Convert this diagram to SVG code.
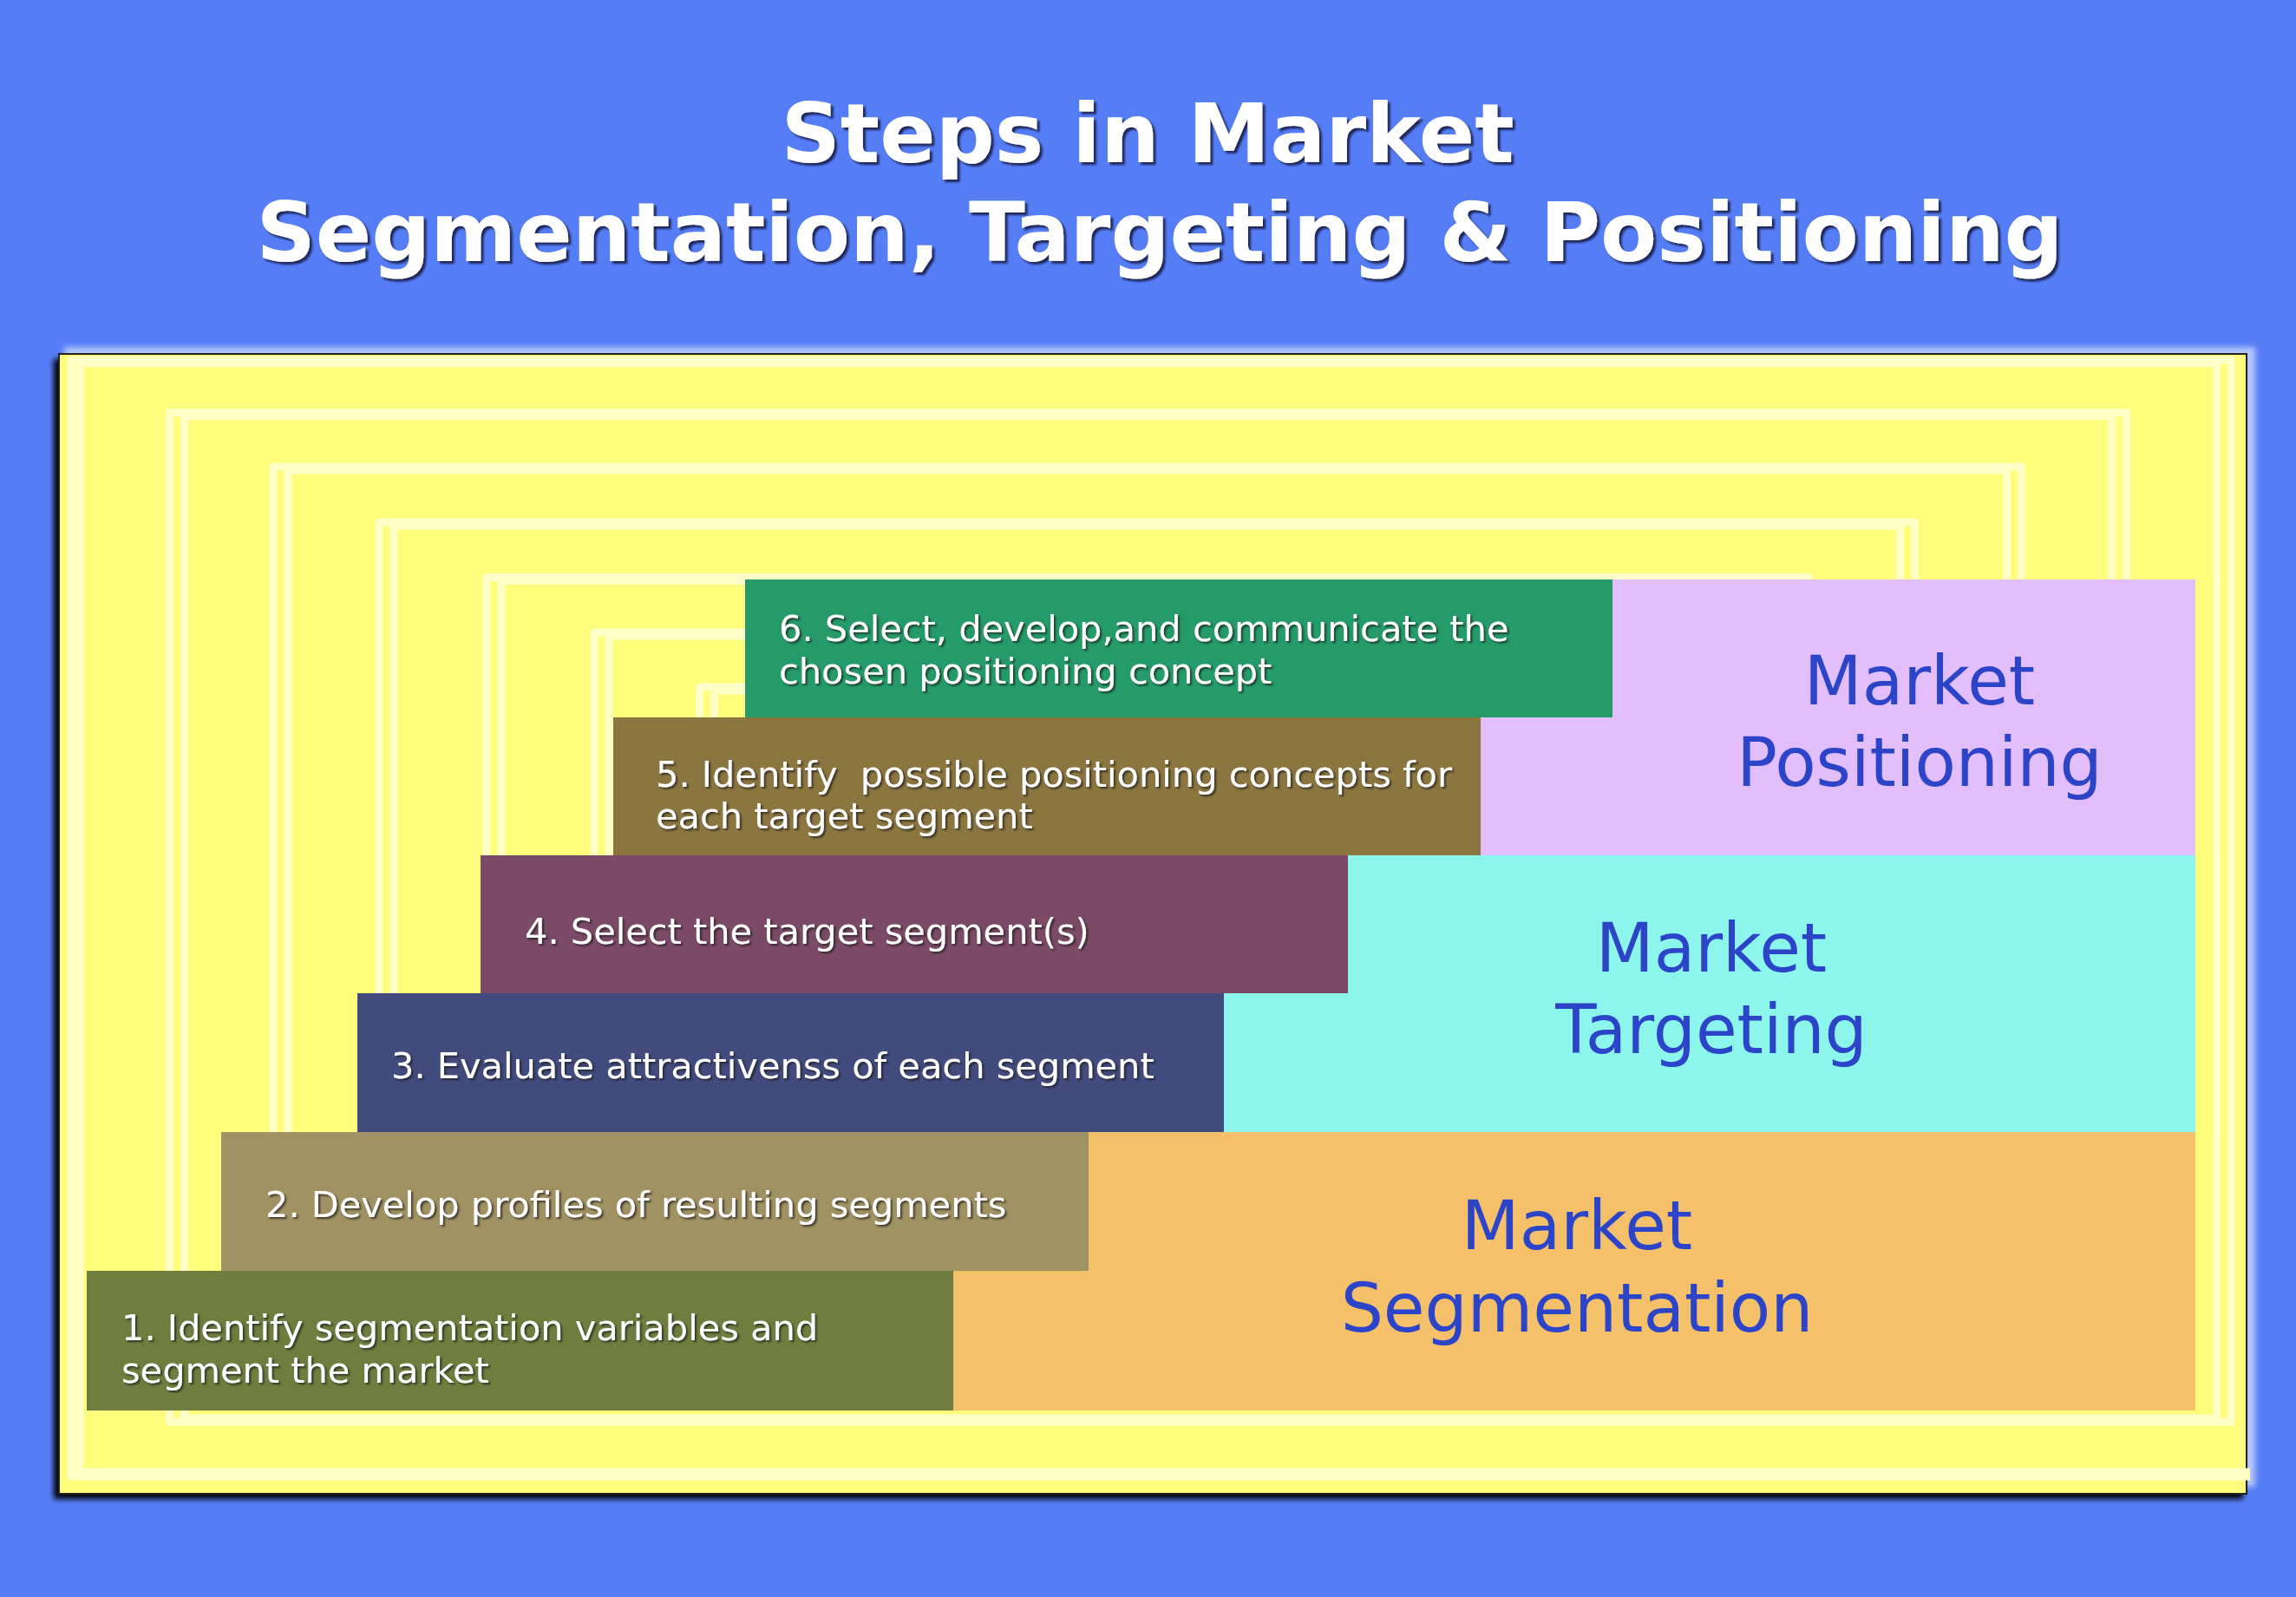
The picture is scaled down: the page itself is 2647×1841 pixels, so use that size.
<svg xmlns="http://www.w3.org/2000/svg" width="2647" height="1841" viewBox="0 0 2647 1841">
<defs>
<style>
.step{font-family:"DejaVu Sans","Verdana",sans-serif;font-size:41.5px;fill:#ffffff;filter:url(#tsh);white-space:pre}
.cat{font-family:"DejaVu Sans","Verdana",sans-serif;font-size:77.5px;fill:#2c45c8;text-anchor:middle}
.title{font-family:"DejaVu Sans","Verdana",sans-serif;font-weight:bold;font-size:95px;fill:#ffffff;text-anchor:middle;filter:url(#titsh)}
.sp{fill:none;stroke:#ffffc8;stroke-width:9;stroke-linejoin:round}
</style>
<filter id="tsh" x="-5%" y="-30%" width="110%" height="160%">
<feDropShadow dx="2" dy="2" stdDeviation="1" flood-color="#1a1a1a" flood-opacity="0.75"/>
</filter>
<filter id="titsh" x="-5%" y="-30%" width="110%" height="160%">
<feDropShadow dx="3" dy="3" stdDeviation="1.2" flood-color="#101030" flood-opacity="0.8"/>
</filter>
<filter id="blur4" x="-5%" y="-5%" width="110%" height="110%">
<feGaussianBlur stdDeviation="3"/>
</filter>
</defs>
<rect x="0" y="0" width="2647" height="1841" fill="#557df6"/>
<g id="title">
<text class="title" x="1323" y="187">Steps in Market</text>
<text class="title" x="1337" y="301">Segmentation, Targeting &amp; Positioning</text>
</g>
<g id="frame">
<rect x="74" y="400" width="2526" height="1314" fill="#dbe6ff" opacity="0.7" filter="url(#blur4)"/>
<rect x="62" y="414" width="2524" height="1314" fill="#000000" filter="url(#blur4)"/>
<rect x="68" y="408" width="2522" height="1314" fill="#fefe7c" stroke="#222222" stroke-width="2"/>
<path class="sp" d="M 2594 1702 H 82 V 415.5 H 2572.5 V 1639 H 195.5 V 475.5 H 2451.5 V 1576 H 315 V 538 H 2330.5 V 1513 H 437 V 602 H 2207.5 V 1450 H 561 V 665.5 H 2085 V 1387 H 685 V 729 H 1963 V 1324 H 806.5 V 792 H 1841"/>
<path class="sp" d="M 2594 1697 H 92 V 418.5 H 2555.5 V 1635 H 212.5 V 479.5 H 2434.5 V 1572 H 332 V 542 H 2313.5 V 1509 H 454 V 606 H 2190.5 V 1446 H 578 V 669.5 H 2068 V 1383 H 702 V 733 H 1946 V 1320 H 823.5 V 796 H 1824"/>
</g>
<g id="positioning">
<rect x="1700" y="668" width="831" height="318" fill="#e2befc"/>
<text class="cat" x="2213" y="812">Market</text>
<text class="cat" x="2213" y="906">Positioning</text>
</g>
<g id="targeting">
<rect x="1405" y="986" width="1126" height="319" fill="#8cf5ec"/>
<text class="cat" x="1973" y="1120">Market</text>
<text class="cat" x="1973" y="1214">Targeting</text>
</g>
<g id="segmentation">
<rect x="1093" y="1305" width="1438" height="321" fill="#f5c06a"/>
<text class="cat" x="1818" y="1440">Market</text>
<text class="cat" x="1818" y="1535">Segmentation</text>
</g>
<g id="step6">
<rect x="859" y="668" width="1000" height="159" fill="#259b69"/>
<text class="step" x="898" y="739">6. Select, develop,and communicate the</text>
<text class="step" x="898" y="788">chosen positioning concept</text>
</g>
<g id="step5">
<rect x="707" y="827" width="1000" height="159" fill="#8b7640"/>
<text class="step" x="756" y="907">5. Identify  possible positioning concepts for</text>
<text class="step" x="756" y="955">each target segment</text>
</g>
<g id="step4">
<rect x="554" y="986" width="1000" height="159" fill="#7b4a66"/>
<text class="step" x="605" y="1088">4. Select the target segment(s)</text>
</g>
<g id="step3">
<rect x="412" y="1145" width="999" height="160" fill="#414b7d"/>
<text class="step" x="451" y="1243">3. Evaluate attractivenss of each segment</text>
</g>
<g id="step2">
<rect x="255" y="1305" width="1000" height="160" fill="#a09262"/>
<text class="step" x="306" y="1403">2. Develop profiles of resulting segments</text>
</g>
<g id="step1">
<rect x="100" y="1465" width="999" height="161" fill="#6f7e3e"/>
<text class="step" x="140" y="1545">1. Identify segmentation variables and</text>
<text class="step" x="140" y="1594">segment the market</text>
</g>
</svg>
